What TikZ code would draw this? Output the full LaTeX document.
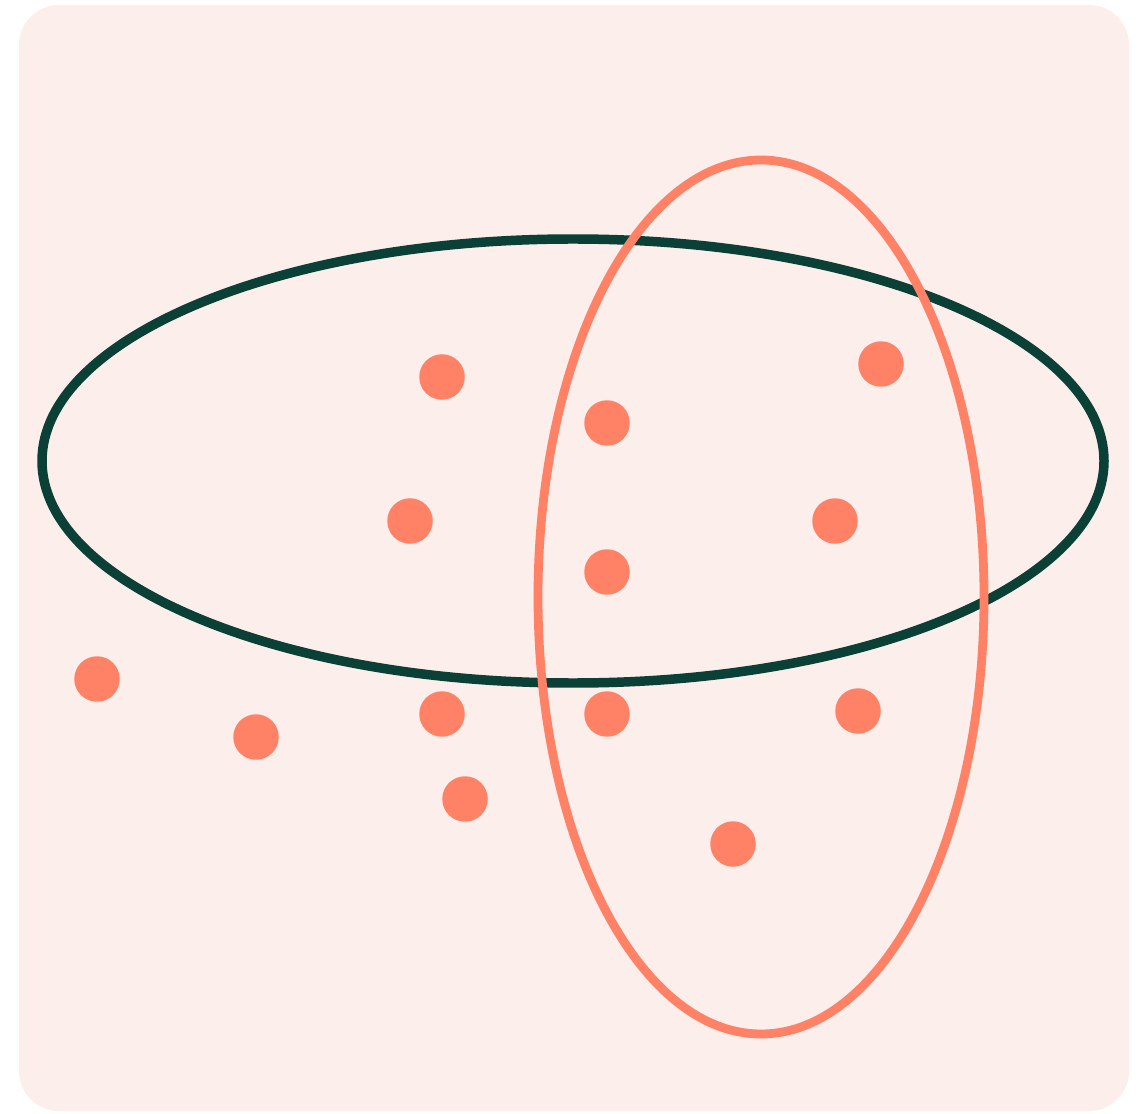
\documentclass[tikz,border=0pt]{standalone}
\usepackage{xcolor}
\usepackage{tikz}
\usetikzlibrary{positioning}

\definecolor{bgpink}{HTML}{FCEEEB}
\definecolor{salmon}{HTML}{FF8266}
\definecolor{pinegreen}{HTML}{0A4035}

\begin{document}
\begin{tikzpicture}[
    x=0.02cm, y=0.02cm,
    point/.style={circle, fill=salmon, inner sep=0pt, minimum size=9.1mm},
    setA/.style={draw=pinegreen, line width=5.4pt},
    setB/.style={draw=salmon, line width=5pt},
]
\useasboundingbox (0,0) rectangle (1138,1113);

% -------- background panel --------
\fill[bgpink, rounded corners=0.8cm] (19,2) rectangle (1129,1108);

% -------- the two sets --------
\draw[setA] (573,652) ellipse (531 and 222);
\draw[setB] (761,516) ellipse (223 and 437);

% -------- points --------
\node[point] (p1)  at (442,736) {};
\node[point] (p2)  at (607,690) {};
\node[point] (p3)  at (881,749) {};
\node[point] (p4)  at (410,592) {};
\node[point] (p5)  at (835,592) {};
\node[point] (p6)  at (607,541) {};
\node[point] (p7)  at (97,434)  {};
\node[point] (p8)  at (256,376) {};
\node[point] (p9)  at (442,399) {};
\node[point] (p10) at (607,399) {};
\node[point] (p11) at (858,402) {};
\node[point] (p12) at (465,314) {};
\node[point] (p13) at (733,269) {};

\end{tikzpicture}
\end{document}
